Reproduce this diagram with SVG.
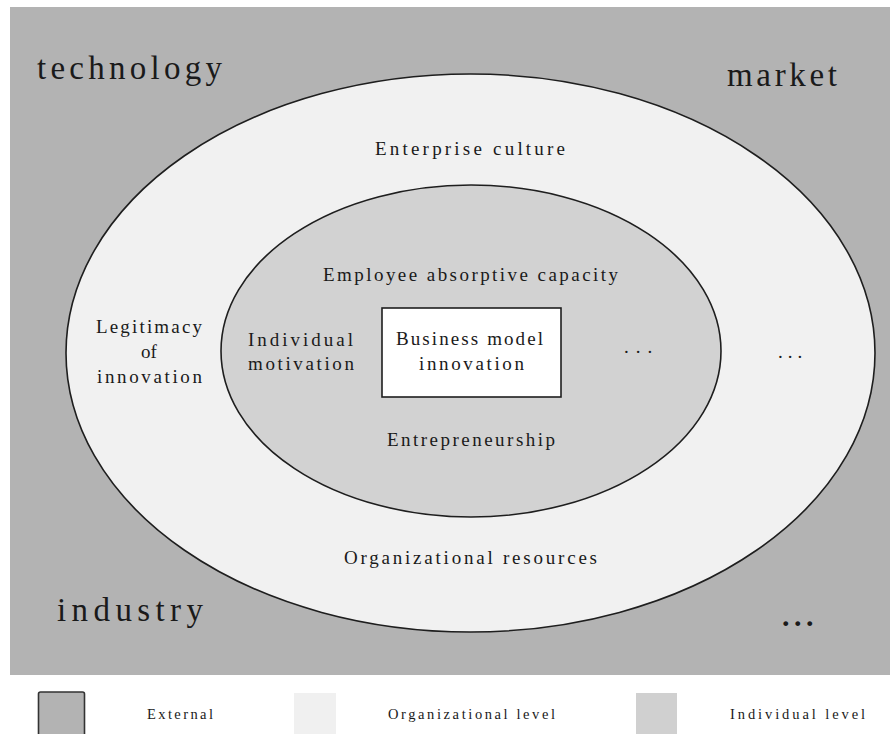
<svg xmlns="http://www.w3.org/2000/svg" width="890" height="734" viewBox="0 0 890 734">
  <style>
    .lbl { font-family: "Liberation Serif", "DejaVu Serif", serif; fill: #1a1a1a; }
    .big { font-size: 33px; }
    .mid { font-size: 19px; }
    .leg { font-size: 14.5px; }
    .ring { stroke: #1e1e1e; stroke-width: 1.6; }
  </style>

  <!-- external environment -->
  <rect x="0" y="0" width="890" height="734" fill="#ffffff"/>
  <rect id="external" x="10" y="7" width="880" height="668" fill="#b3b3b3"/>
  <g id="external-labels">
    <text class="lbl big" x="37" y="79" textLength="185">technology</text>
    <text class="lbl big" x="727" y="86" textLength="110">market</text>
    <text class="lbl big" x="57" y="621" textLength="146">industry</text>
    <text class="lbl" x="782" y="626" font-size="30" font-weight="bold" letter-spacing="4.5">...</text>
  </g>

  <!-- organizational level -->
  <g id="organizational">
    <ellipse class="ring" cx="470.5" cy="353" rx="404.5" ry="279" fill="#f1f1f1"/>
    <text class="lbl mid" x="375" y="155" textLength="190">Enterprise culture</text>
    <text class="lbl mid" x="344" y="564" textLength="253">Organizational resources</text>
    <text class="lbl mid" x="96" y="333" textLength="106">Legitimacy</text>
    <text class="lbl mid" x="149" y="358" text-anchor="middle">of</text>
    <text class="lbl mid" x="97" y="383" textLength="105">innovation</text>
    <text class="lbl mid" x="778" y="358" letter-spacing="5">...</text>
  </g>

  <!-- individual level -->
  <g id="individual">
    <ellipse class="ring" cx="471" cy="351" rx="250" ry="166" fill="#d2d2d2"/>
    <text class="lbl mid" x="323" y="281" textLength="295">Employee absorptive capacity</text>
    <text class="lbl mid" x="248" y="346" textLength="105">Individual</text>
    <text class="lbl mid" x="248" y="370" textLength="106">motivation</text>
    <text class="lbl mid" x="387" y="446" textLength="168">Entrepreneurship</text>
    <text class="lbl mid" x="624" y="353" letter-spacing="7">...</text>
  </g>

  <!-- core -->
  <g id="core">
    <rect x="382" y="308" width="179" height="89" fill="#ffffff" stroke="#1e1e1e" stroke-width="1.6"/>
    <text class="lbl mid" x="396" y="345" textLength="147">Business model</text>
    <text class="lbl mid" x="419" y="370" textLength="105">innovation</text>
  </g>

  <!-- connectors (none in this figure) -->
  <g id="connectors"/>

  <!-- legend -->
  <g id="legend">
    <rect x="38.5" y="692" width="46" height="50" rx="2" fill="#b3b3b3" stroke="#333333" stroke-width="1.6"/>
    <text class="lbl leg" x="147" y="719" textLength="66">External</text>
    <rect x="294" y="693" width="42" height="45" fill="#f0f0f0"/>
    <text class="lbl leg" x="388" y="719" textLength="167">Organizational level</text>
    <rect x="636" y="693" width="41" height="45" fill="#d0d0d0"/>
    <text class="lbl leg" x="730" y="719" textLength="135">Individual level</text>
  </g>
</svg>
